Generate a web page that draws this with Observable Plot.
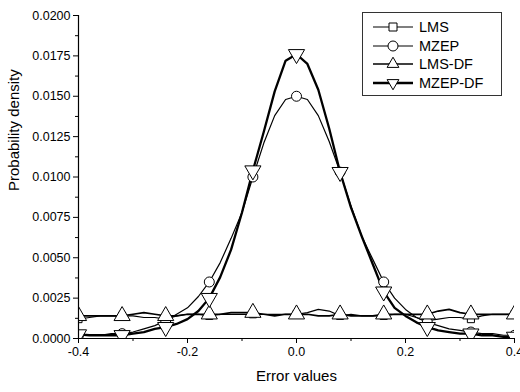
<!DOCTYPE html>
<html><head><meta charset="utf-8">
<script src="https://cdn.jsdelivr.net/npm/d3@7"></script>
<script src="https://cdn.jsdelivr.net/npm/@observablehq/plot@0.6"></script>
<style>
body{margin:0;background:#fff;font-family:"Liberation Sans",Arial,sans-serif}
#wrap{position:relative;width:520px;height:392px}
#legend{position:absolute;left:362px;top:12px;width:140px;height:84px;border:1px solid #333;box-sizing:border-box;background:#fff}
.row{position:absolute;left:8px;height:18px;display:flex;align-items:center;font-size:14.5px;color:#000}
.row svg{margin-right:4px}
</style>
</head><body><div id="wrap"><div id="legend"></div></div>
<script>
const seriesNames = ["LMS", "MZEP", "LMS-DF", "MZEP-DF"];
const xValues = [-0.40,-0.38,-0.36,-0.34,-0.32,-0.30,-0.28,-0.26,-0.24,-0.22,-0.20,-0.18,-0.16,-0.14,-0.12,-0.10,-0.08,-0.06,-0.04,-0.02,0.00,
                 0.02,0.04,0.06,0.08,0.10,0.12,0.14,0.16,0.18,0.20,0.22,0.24,0.26,0.28,0.30,0.32,0.34,0.36,0.38,0.40];
const lms = [0.0012,0.0013,0.0014,0.0014,0.0014,0.0014,0.0013,0.0013,0.0012,0.0014,0.0015,0.0015,0.0014,0.0015,0.0015,0.0015,0.0015,0.0015,0.0015,0.0015,0.0015,
             0.0016,0.0018,0.0017,0.0014,0.0015,0.0014,0.0014,0.0014,0.0015,0.0015,0.0013,0.0011,0.0012,0.0013,0.0013,0.0012,0.0014,0.0015,0.0015,0.0015];
const mzep = [0.0002,0.0002,0.0002,0.0003,0.0003,0.0004,0.0006,0.0008,0.0011,0.0015,0.0019,0.0026,0.0035,0.0047,0.0062,0.0078,0.0100,0.0121,0.0138,0.0148,0.0150,
              0.0148,0.0138,0.0122,0.0103,0.0082,0.0063,0.0049,0.0035,0.0025,0.0018,0.0013,0.0010,0.0008,0.0006,0.0005,0.0004,0.0003,0.0003,0.0002,0.0002];
const lmsDf = [0.0014,0.0014,0.0014,0.0014,0.0014,0.0015,0.0016,0.0015,0.0014,0.0014,0.0015,0.0015,0.0015,0.0015,0.0016,0.0016,0.0016,0.0015,0.0014,0.0015,0.0015,
               0.0015,0.0014,0.0014,0.0015,0.0014,0.0014,0.0014,0.0015,0.0015,0.0015,0.0015,0.0015,0.0017,0.0018,0.0016,0.0015,0.0015,0.0015,0.0015,0.0015];
const mzepDf = [0.00025,0.0002,0.0002,0.0002,0.0002,0.0003,0.0004,0.0006,0.0007,0.0009,0.0012,0.0017,0.0025,0.0038,0.0055,0.0078,0.0104,0.0128,0.0153,0.0172,0.0176,
                0.0170,0.0154,0.0130,0.0103,0.0081,0.0063,0.0046,0.0029,0.0019,0.0014,0.0010,0.0007,0.0005,0.0004,0.0003,0.0003,0.0002,0.0002,0.0001,0.0001];
const markerX = [-0.40,-0.32,-0.24,-0.16,-0.08,0.00,0.08,0.16,0.24,0.32,0.40];
const yTicks = [0,0.0025,0.005,0.0075,0.01,0.0125,0.015,0.0175,0.02];
const yMinor = [0.00125,0.00375,0.00625,0.00875,0.01125,0.01375,0.01625,0.01875];
const xTicks = [-0.4,-0.2,0,0.2,0.4];
const xMinor = [-0.3,-0.1,0.1,0.3];

const allValues = [lms, mzep, lmsDf, mzepDf];
const styles = {
  "LMS": {sw: 1.2, symbol: "square", r: 4, rotate: 0},
  "MZEP": {sw: 1.2, symbol: "circle", r: 5, rotate: 0},
  "LMS-DF": {sw: 1.7, symbol: "triangle", r: 6, rotate: 0},
  "MZEP-DF": {sw: 2.3, symbol: "triangle", r: 6, rotate: 180}
};
const rows = [];
seriesNames.forEach((s, i) => xValues.forEach((x, j) => rows.push({series: s, x, y: allValues[i][j]})));
const markerRows = rows.filter(d => markerX.includes(d.x));

const marks = [];
for (const s of seriesNames) {
  marks.push(Plot.line(rows.filter(d => d.series === s), {x: "x", y: "y", stroke: "black", strokeWidth: styles[s].sw, curve: "linear", clip: true}));
}
for (const s of seriesNames) {
  const st = styles[s];
  marks.push(Plot.dot(markerRows.filter(d => d.series === s), {x: "x", y: "y", symbol: st.symbol, r: st.r, rotate: st.rotate, fill: "white", stroke: "black", strokeWidth: 1, clip: true}));
}
marks.push(
  Plot.ruleX([-0.4], {stroke: "black", strokeWidth: 1.2}),
  Plot.ruleY([0], {stroke: "black", strokeWidth: 1.2}),
  Plot.axisY({ticks: yTicks, tickSize: 5, tickPadding: 3, tickFormat: d => d.toFixed(4), label: null, fontSize: 12.5}),
  Plot.axisY({ticks: yMinor, tickSize: 3, tickFormat: () => "", label: null}),
  Plot.axisX({ticks: xTicks, tickSize: 5, tickPadding: 4, tickFormat: d => d.toFixed(1), label: null, fontSize: 12.5}),
  Plot.axisX({ticks: xMinor, tickSize: 3, tickFormat: () => "", label: null}),
  Plot.text(["Error values"], {frameAnchor: "bottom", dy: 42, fontSize: 15, fill: "black"}),
  Plot.text(["Probability density"], {frameAnchor: "left", dx: -64, dy: 14, rotate: -90, fontSize: 15, fill: "black"})
);

const chart = Plot.plot({
  width: 520, height: 392,
  marginLeft: 78, marginRight: 6, marginTop: 15, marginBottom: 54,
  x: {domain: [-0.4, 0.4]},
  y: {domain: [0, 0.02]},
  style: {fontFamily: "'Liberation Sans', Arial, sans-serif", color: "black", background: "white"},
  marks
});
document.getElementById("wrap").prepend(chart);

// legend
const legend = document.getElementById("legend");
seriesNames.forEach((s, i) => {
  const st = styles[s];
  const row = document.createElement("div");
  row.className = "row";
  row.style.top = (5 + i * 18.5) + "px";
  const svg = d3.create("svg").attr("width", 44).attr("height", 16);
  svg.append("line").attr("x1", 2).attr("x2", 42).attr("y1", 8).attr("y2", 8).attr("stroke", "black").attr("stroke-width", st.sw);
  const sym = st.symbol === "square" ? d3.symbolSquare : st.symbol === "circle" ? d3.symbolCircle : d3.symbolTriangle;
  const area = st.symbol === "square" ? 64 : st.symbol === "circle" ? Math.PI * 25 : 60;
  svg.append("path").attr("d", d3.symbol(sym, area)()).attr("transform", `translate(22,8) rotate(${st.rotate})`)
    .attr("fill", "white").attr("stroke", "black");
  row.appendChild(svg.node());
  const t = document.createElement("span");
  t.textContent = s;
  row.appendChild(t);
  legend.appendChild(row);
});
</script>
</body></html>
